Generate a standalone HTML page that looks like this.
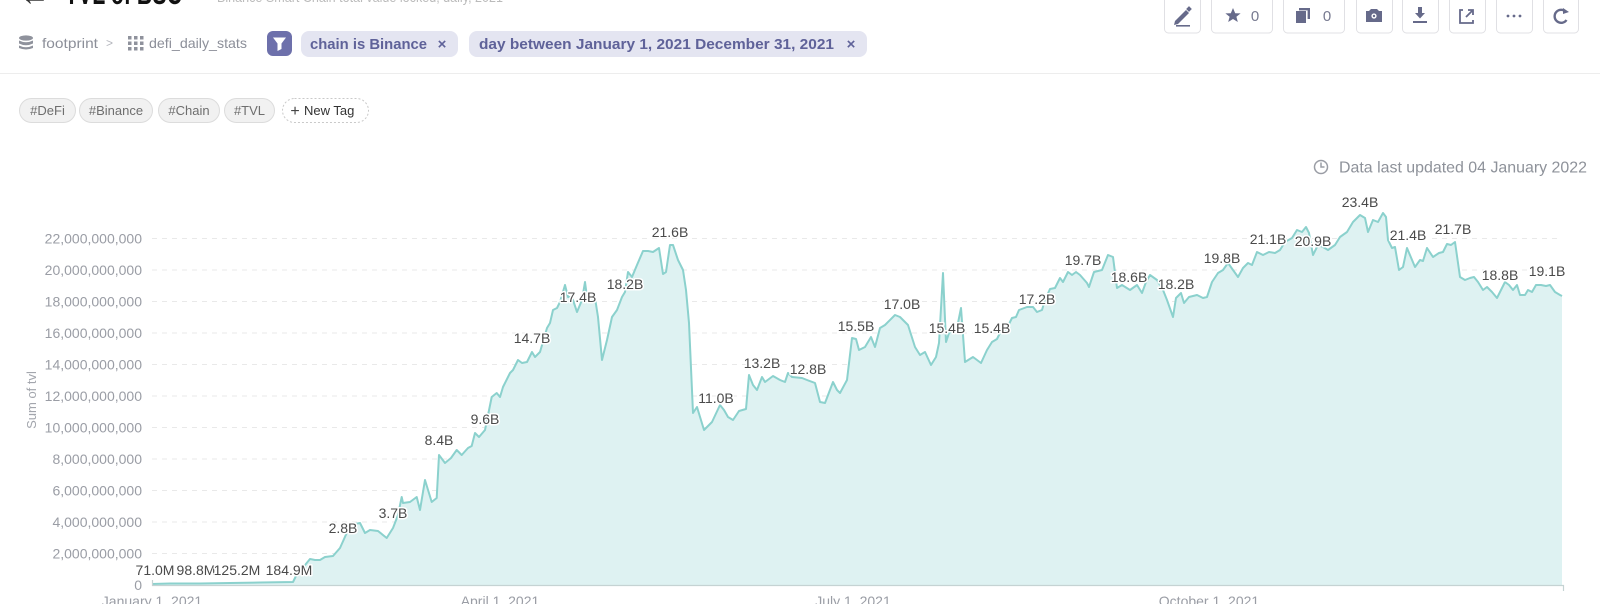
<!DOCTYPE html>
<html><head><meta charset="utf-8"><style>
html,body{margin:0;padding:0;background:#fff;}
svg{display:block;font-family:"Liberation Sans",sans-serif;}
</style></head><body>
<svg width="1600" height="604" viewBox="0 0 1600 604" xmlns="http://www.w3.org/2000/svg">
<rect width="1600" height="604" fill="#fff"/>
<!-- title strip (cut) -->
<text x="20" y="5" font-size="30" fill="#333">←</text>
<text x="65" y="4" font-size="32" font-weight="bold" fill="#111" textLength="117" lengthAdjust="spacingAndGlyphs">TVL of BSC</text>
<text x="217" y="2" font-size="14" fill="#bbb" textLength="286" lengthAdjust="spacingAndGlyphs">Binance Smart Chain total value locked, daily, 2021</text>

<!-- buttons -->
<g fill="#fff" stroke="#e0e0e4" stroke-width="1">
<rect x="1164.5" y="-5" width="36" height="38" rx="4"/>
<rect x="1211.5" y="-5" width="61" height="38" rx="4"/>
<rect x="1283.5" y="-5" width="61" height="38" rx="4"/>
<rect x="1356.5" y="-5" width="36" height="38" rx="4"/>
<rect x="1402.5" y="-5" width="36" height="38" rx="4"/>
<rect x="1449.5" y="-5" width="36" height="38" rx="4"/>
<rect x="1496.5" y="-5" width="36" height="38" rx="4"/>
<rect x="1543.5" y="-5" width="35" height="38" rx="4"/>
</g>
<g fill="#666a8a">
<!-- pencil -->
<path d="M1175 21 L1186 10 L1189 13 L1178 24 L1174 25 Z"/>
<rect x="1187" y="7" width="4" height="4" transform="rotate(45 1189 9)"/>
<rect x="1176" y="25" width="14" height="1.6"/>
<!-- star -->
<polygon points="1233,8 1235.2,13.2 1240.6,13.4 1236.4,16.8 1237.8,22 1233,19 1228.2,22 1229.6,16.8 1225.4,13.4 1230.8,13.2"/>
<!-- copy -->
<rect x="1296" y="11" width="10" height="12"/>
<path d="M1299 8 H1310 V19 H1307.6 V10.4 H1299 Z"/>
<!-- camera -->
<path d="M1366 11 H1369 L1371 9 H1377 L1379 11 H1382 V22 H1366 Z"/>
<!-- download -->
<path d="M1418 7 H1422 V13 H1425 L1420 18.5 L1415 13 H1418 Z"/>
<rect x="1413" y="21" width="14" height="2"/>
</g>
<circle cx="1374" cy="16" r="2.6" fill="#fff"/>
<circle cx="1374" cy="16" r="1.2" fill="#666a8a"/>
<g fill="none" stroke="#666a8a" stroke-width="1.8">
<path d="M1463 10 H1460 V23 H1473 V20"/>
<path d="M1466 17 L1473 10 M1468 10 H1473 V15"/>
<path d="M1566 12 A6.5 6.5 0 1 0 1566.5 20" stroke-width="2.4"/>
</g>
<polygon points="1563,8 1569,12 1563,14" fill="#666a8a"/>
<g fill="#666a8a"><circle cx="1508" cy="16" r="1.4"/><circle cx="1514" cy="16" r="1.4"/><circle cx="1520" cy="16" r="1.4"/></g>
<text x="1255" y="21" font-size="15" fill="#777a90" text-anchor="middle">0</text>
<text x="1327" y="21" font-size="15" fill="#777a90" text-anchor="middle">0</text>

<!-- breadcrumb -->
<g fill="#8f929c">
<ellipse cx="26" cy="38" rx="7" ry="2.6"/>
<path d="M19 40.5 Q26 44 33 40.5 V43.5 Q26 47 19 43.5 Z"/>
<path d="M19 45.5 Q26 49 33 45.5 V48 Q26 51 19 48 Z"/>
</g>
<text x="42" y="48" font-size="14" fill="#8c8f99" textLength="56" lengthAdjust="spacingAndGlyphs">footprint</text>
<text x="106" y="47" font-size="12" fill="#b4b6bd">&gt;</text>
<g fill="#8f929c">
<rect x="128" y="36" width="3.5" height="3.5"/><rect x="134" y="36" width="3.5" height="3.5"/><rect x="140" y="36" width="3.5" height="3.5"/>
<rect x="128" y="41.5" width="3.5" height="3.5"/><rect x="134" y="41.5" width="3.5" height="3.5"/><rect x="140" y="41.5" width="3.5" height="3.5"/>
<rect x="128" y="47" width="3.5" height="3.5"/><rect x="134" y="47" width="3.5" height="3.5"/><rect x="140" y="47" width="3.5" height="3.5"/>
</g>
<text x="149" y="48" font-size="14" fill="#8c8f99" textLength="98" lengthAdjust="spacingAndGlyphs">defi_daily_stats</text>
<rect x="267" y="31" width="25" height="25" rx="6" fill="#6d70ab"/>
<path d="M273 37.5 H286 L281.5 43.5 V49 L277.5 51 V43.5 Z" fill="#fff"/>
<rect x="301" y="31" width="157" height="26" rx="8" fill="#e4e5f1"/>
<text x="310" y="49" font-size="15" font-weight="bold" fill="#5f6299" textLength="117" lengthAdjust="spacingAndGlyphs">chain is Binance</text>
<text x="442" y="49" font-size="15" font-weight="bold" fill="#5f6299" text-anchor="middle">×</text>
<rect x="469" y="31" width="398" height="26" rx="8" fill="#e4e5f1"/>
<text x="479" y="49" font-size="15" font-weight="bold" fill="#5f6299" textLength="355" lengthAdjust="spacingAndGlyphs">day between January 1, 2021 December 31, 2021</text>
<text x="851" y="49" font-size="15" font-weight="bold" fill="#5f6299" text-anchor="middle">×</text>

<line x1="0" y1="73.5" x2="1600" y2="73.5" stroke="#ededed" stroke-width="1"/>

<!-- tags -->
<g stroke="#dcdcdc" stroke-width="1" fill="#f1f1f1">
<rect x="19.5" y="98.5" width="56" height="24" rx="12"/>
<rect x="79.5" y="98.5" width="73" height="24" rx="12"/>
<rect x="158.5" y="98.5" width="61" height="24" rx="12"/>
<rect x="224.5" y="98.5" width="50" height="24" rx="12"/>
</g>
<rect x="282.5" y="98.5" width="86" height="24" rx="12" fill="#fff" stroke="#c9c9c9" stroke-dasharray="2 2"/>
<g font-size="13" fill="#6e6e6e" text-anchor="middle">
<text x="47.5" y="115">#DeFi</text>
<text x="116" y="115">#Binance</text>
<text x="189" y="115">#Chain</text>
<text x="249.5" y="115">#TVL</text>
</g>
<text x="295" y="116" font-size="16" fill="#444" text-anchor="middle">+</text>
<text x="304" y="115" font-size="13" fill="#333">New Tag</text>

<!-- data last updated -->
<circle cx="1321" cy="167" r="6.5" fill="none" stroke="#9a9da5" stroke-width="1.5"/>
<path d="M1321 162.5 V167 H1324.5" fill="none" stroke="#9a9da5" stroke-width="1.5"/>
<text x="1339" y="172.5" font-size="16" fill="#8e929a" textLength="248" lengthAdjust="spacingAndGlyphs">Data last updated 04 January 2022</text>

<!-- grid -->
<g stroke="#e9e9e9" stroke-width="1" stroke-dasharray="5 5">
<line x1="152" x2="1562" y1="553.5" y2="553.5"/>
<line x1="152" x2="1562" y1="522" y2="522"/>
<line x1="152" x2="1562" y1="490.5" y2="490.5"/>
<line x1="152" x2="1562" y1="459" y2="459"/>
<line x1="152" x2="1562" y1="427.5" y2="427.5"/>
<line x1="152" x2="1562" y1="396" y2="396"/>
<line x1="152" x2="1562" y1="364.5" y2="364.5"/>
<line x1="152" x2="1562" y1="333" y2="333"/>
<line x1="152" x2="1562" y1="301.5" y2="301.5"/>
<line x1="152" x2="1562" y1="270" y2="270"/>
<line x1="152" x2="1562" y1="238.5" y2="238.5"/>
</g>
<g font-size="14" fill="#9a9da5" text-anchor="end">
<text x="142" y="590">0</text>
<text x="142" y="558.5">2,000,000,000</text>
<text x="142" y="527">4,000,000,000</text>
<text x="142" y="495.5">6,000,000,000</text>
<text x="142" y="464">8,000,000,000</text>
<text x="142" y="432.5">10,000,000,000</text>
<text x="142" y="401">12,000,000,000</text>
<text x="142" y="369.5">14,000,000,000</text>
<text x="142" y="338">16,000,000,000</text>
<text x="142" y="306.5">18,000,000,000</text>
<text x="142" y="275">20,000,000,000</text>
<text x="142" y="243.5">22,000,000,000</text>
</g>
<text x="0" y="0" font-size="13" fill="#a3a6ad" text-anchor="middle" transform="translate(36 400) rotate(-90)">Sum of tvl</text>

<!-- series -->
<path id="ln" d="M152,584 L170,583.5 200,583.5 230,583 260,582.5 293,582 296,576 310,559 315,560 320,560 325,557 333,556 340,548 346.7,533 350,525 360,523 365,533 370,530 378,531 386.7,538 393,528 398,515 401.7,497 403,503 410,502 416.7,497 420,510 425,480 431.7,502 436.7,498 439,455 445,463 451,458 456.7,450 461.7,455 468,448 471.7,446 475,433 479,437 485,430 491.7,397 496.7,393 500,397 503,387 510,373 513,370 518,360 522,363 527,362 532,352 535,357 540,352 547,328 550,323 553,310 557,308 560,302 565,285 568,297 572,297 577,312 582,300 585,282 587,297 595,298 598,317 602,360 607,340 612,317 617,310 622,297 625,292 628,272 632,277 637,265 643,251 648,251 653,252 659,248 663,274 666,272 670,245 673,245 678,260 683,270 686,290 689,323 693,413 697,407 704,430 712,422 720,405 724,410 728,417 733,420 739,411 746,409 749,375 753,385 757,390 762,377 765,382 773,376 780,380 785,382 788,373 792,377 802,378 807,380 815,383 820,402 825,403 833,382 837,390 840,393 847,380 852,338 856,339 859,350 865,347 871,337 875,347 880,328 885,325 895,315 900,317 908,325 915,347 920,355 925,352 931,365 936,357 939,343 943,273 946,342 949,333 957,328 961,308 965,362 973,357 981,363 987,350 992,342 997,339 1000,333 1007,328 1012,318 1016,317 1019,310 1027,307 1033,307 1037,312 1042,310 1045,300 1050,289 1055,288 1060,278 1063,282 1068,272 1072,275 1076,272 1080,275 1087,283 1089,287 1094,272 1102,270 1108,255 1113,257 1117,288 1122,285 1130,290 1137,285 1142,293 1146,282 1150,275 1157,280 1163,290 1167,300 1173,317 1176,298 1181,293 1184,303 1189,297 1197,295 1203,298 1207,297 1212,282 1218,273 1223,270 1228,263 1233,270 1238,277 1243,268 1248,263 1252,265 1257,252 1263,255 1269,252 1275,253 1280,250 1285,242 1292,238 1297,230 1302,232 1306,227 1309,233 1313,255 1318,245 1323,247 1328,250 1335,245 1340,237 1347,232 1353,222 1360,215 1365,218 1368,232 1373,220 1378,222 1383,213 1386,217 1388,240 1392,248 1395,247 1399,270 1403,267 1407,248 1415,267 1420,260 1423,261 1427,248 1433,257 1439,253 1443,252 1447,244 1451,245 1455,242 1460,277 1465,280 1470,278 1474,277 1478,282 1483,290 1487,287 1492,292 1497,298 1502,288 1505,282 1509,285 1513,290 1517,285 1520,295 1525,295 1528,290 1532,292 1536,285 1541,285 1546,286 1550,285 1555,292 1560,295 1562,296" fill="none"/>
<path d="M152,585 L152,584 L170,583.5 200,583.5 230,583 260,582.5 293,582 296,576 310,559 315,560 320,560 325,557 333,556 340,548 346.7,533 350,525 360,523 365,533 370,530 378,531 386.7,538 393,528 398,515 401.7,497 403,503 410,502 416.7,497 420,510 425,480 431.7,502 436.7,498 439,455 445,463 451,458 456.7,450 461.7,455 468,448 471.7,446 475,433 479,437 485,430 491.7,397 496.7,393 500,397 503,387 510,373 513,370 518,360 522,363 527,362 532,352 535,357 540,352 547,328 550,323 553,310 557,308 560,302 565,285 568,297 572,297 577,312 582,300 585,282 587,297 595,298 598,317 602,360 607,340 612,317 617,310 622,297 625,292 628,272 632,277 637,265 643,251 648,251 653,252 659,248 663,274 666,272 670,245 673,245 678,260 683,270 686,290 689,323 693,413 697,407 704,430 712,422 720,405 724,410 728,417 733,420 739,411 746,409 749,375 753,385 757,390 762,377 765,382 773,376 780,380 785,382 788,373 792,377 802,378 807,380 815,383 820,402 825,403 833,382 837,390 840,393 847,380 852,338 856,339 859,350 865,347 871,337 875,347 880,328 885,325 895,315 900,317 908,325 915,347 920,355 925,352 931,365 936,357 939,343 943,273 946,342 949,333 957,328 961,308 965,362 973,357 981,363 987,350 992,342 997,339 1000,333 1007,328 1012,318 1016,317 1019,310 1027,307 1033,307 1037,312 1042,310 1045,300 1050,289 1055,288 1060,278 1063,282 1068,272 1072,275 1076,272 1080,275 1087,283 1089,287 1094,272 1102,270 1108,255 1113,257 1117,288 1122,285 1130,290 1137,285 1142,293 1146,282 1150,275 1157,280 1163,290 1167,300 1173,317 1176,298 1181,293 1184,303 1189,297 1197,295 1203,298 1207,297 1212,282 1218,273 1223,270 1228,263 1233,270 1238,277 1243,268 1248,263 1252,265 1257,252 1263,255 1269,252 1275,253 1280,250 1285,242 1292,238 1297,230 1302,232 1306,227 1309,233 1313,255 1318,245 1323,247 1328,250 1335,245 1340,237 1347,232 1353,222 1360,215 1365,218 1368,232 1373,220 1378,222 1383,213 1386,217 1388,240 1392,248 1395,247 1399,270 1403,267 1407,248 1415,267 1420,260 1423,261 1427,248 1433,257 1439,253 1443,252 1447,244 1451,245 1455,242 1460,277 1465,280 1470,278 1474,277 1478,282 1483,290 1487,287 1492,292 1497,298 1502,288 1505,282 1509,285 1513,290 1517,285 1520,295 1525,295 1528,290 1532,292 1536,285 1541,285 1546,286 1550,285 1555,292 1560,295 1562,296 L1562,585 Z" fill="#def2f2"/>
<use href="#ln" stroke="#8bd1cd" stroke-width="2" stroke-linejoin="round"/>

<!-- axis -->
<line x1="152" y1="585.5" x2="1564" y2="585.5" stroke="#c5d3d3" stroke-width="1.2"/>
<line x1="152.5" y1="580" x2="152.5" y2="586" stroke="#c5d3d3" stroke-width="1.2"/>
<line x1="1563.5" y1="585" x2="1563.5" y2="591" stroke="#c5d3d3" stroke-width="1.2"/>
<g font-size="14" fill="#9a9da5" text-anchor="middle">
<text x="152" y="606">January 1, 2021</text>
<text x="500" y="606">April 1, 2021</text>
<text x="853" y="606">July 1, 2021</text>
<text x="1209" y="606">October 1, 2021</text>
</g>

<!-- data labels -->
<g font-size="14" fill="#4a4a4a" text-anchor="middle" stroke="#fff" stroke-width="3" paint-order="stroke" stroke-linejoin="round">
<text x="155" y="575">71.0M</text>
<text x="196" y="575">98.8M</text>
<text x="237" y="575">125.2M</text>
<text x="289" y="575">184.9M</text>
<text x="343" y="533">2.8B</text>
<text x="393" y="518">3.7B</text>
<text x="439" y="445">8.4B</text>
<text x="485" y="424">9.6B</text>
<text x="532" y="343">14.7B</text>
<text x="578" y="302">17.4B</text>
<text x="625" y="289">18.2B</text>
<text x="670" y="237">21.6B</text>
<text x="716" y="403">11.0B</text>
<text x="762" y="368">13.2B</text>
<text x="808" y="374">12.8B</text>
<text x="856" y="331">15.5B</text>
<text x="902" y="309">17.0B</text>
<text x="947" y="333">15.4B</text>
<text x="992" y="333">15.4B</text>
<text x="1037" y="304">17.2B</text>
<text x="1083" y="265">19.7B</text>
<text x="1129" y="282">18.6B</text>
<text x="1176" y="289">18.2B</text>
<text x="1222" y="263">19.8B</text>
<text x="1268" y="244">21.1B</text>
<text x="1313" y="246">20.9B</text>
<text x="1360" y="207">23.4B</text>
<text x="1408" y="240">21.4B</text>
<text x="1453" y="234">21.7B</text>
<text x="1500" y="280">18.8B</text>
<text x="1547" y="276">19.1B</text>
</g>
</svg>
</body></html>
